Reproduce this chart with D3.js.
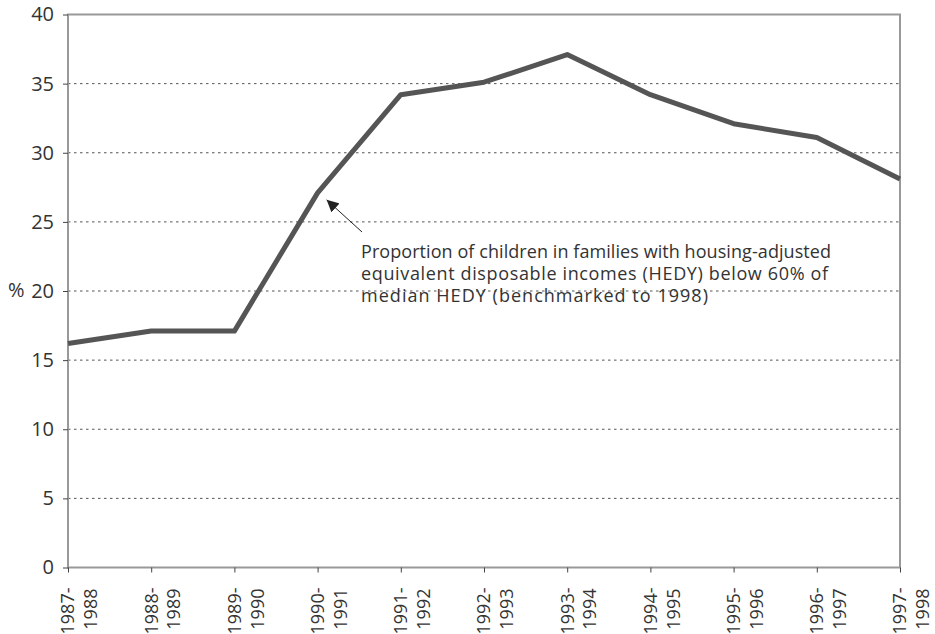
<!DOCTYPE html>
<html>
<head>
<meta charset="utf-8">
<script src="https://cdn.jsdelivr.net/npm/d3@7"></script>
<style>
  body { margin: 0; background: #fff; }
  text { font-family: "Open Sans", sans-serif; fill: #333; }
</style>
</head>
<body>
<div class="main"></div>
<script>
// data
let years = ["1987-1988", "1988-1989", "1989-1990", "1990-1991", "1991-1992",
             "1992-1993", "1993-1994", "1994-1995", "1995-1996", "1996-1997", "1997-1998"];
let share = [16.2, 17.1, 17.1, 27.1, 34.2, 35.1, 37.1, 34.2, 32.1, 31.1, 28.1];
let yTicks = [0, 5, 10, 15, 20, 25, 30, 35, 40];
let note = ["Proportion of children in families with housing-adjusted",
            "equivalent disposable incomes (HEDY) below 60% of",
            "median HEDY (benchmarked to 1998)"];

let width = 935, height = 634;
let margin = {top: 14.5, right: 35, bottom: 66.5, left: 68};

let svg = d3.select("div.main").append("svg")
  .attr("width", width)
  .attr("height", height);

let x = d3.scalePoint()
  .domain(years)
  .range([margin.left, width - margin.right]);

let y = d3.scaleLinear()
  .domain([0, 40])
  .range([height - margin.bottom, margin.top]);

// dotted gridlines
svg.append("g")
  .selectAll("line")
  .data(yTicks.filter(d => d > 0 && d < 40))
  .enter().append("line")
    .attr("x1", margin.left)
    .attr("x2", width - margin.right)
    .attr("y1", d => y(d))
    .attr("y2", d => y(d))
    .attr("stroke", "#555")
    .attr("stroke-width", 1)
    .attr("stroke-dasharray", "2.5,3.5");

// frame
svg.append("rect")
  .attr("x", margin.left)
  .attr("y", margin.top)
  .attr("width", width - margin.right - margin.left)
  .attr("height", height - margin.bottom - margin.top)
  .attr("fill", "none")
  .attr("stroke", "#999")
  .attr("stroke-width", 2);

// y axis
let yAxis = svg.append("g")
  .attr("transform", "translate(" + margin.left + ",0)")
  .call(d3.axisLeft(y).tickValues(yTicks).tickSize(5).tickPadding(9));
yAxis.select(".domain").remove();
yAxis.selectAll(".tick line").attr("stroke", "#444");
yAxis.selectAll(".tick text")
  .style("font-size", "20px")
  .style("font-family", "'Open Sans', sans-serif")
  .attr("fill", "#333");

svg.append("text")
  .attr("x", 8)
  .attr("y", y(20))
  .attr("dy", "0.32em")
  .style("font-size", "20px")
  .text("%");

// x axis
let xAxis = svg.append("g")
  .attr("transform", "translate(0," + (height - margin.bottom) + ")")
  .call(d3.axisBottom(x).tickSize(5).tickFormat(""));
xAxis.select(".domain").remove();
xAxis.selectAll(".tick line").attr("stroke", "#444");

let xl = svg.append("g")
  .selectAll("g")
  .data(years)
  .enter().append("g")
    .attr("transform", d => "translate(" + x(d) + "," + (height - margin.bottom + 20) + ") rotate(-90)");

xl.append("text")
  .attr("text-anchor", "end")
  .attr("dy", "0.35em")
  .style("font-size", "18px")
  .text(d => d.split("-")[0] + "-");
xl.append("text")
  .attr("text-anchor", "end")
  .attr("x", -1)
  .attr("y", 23)
  .attr("dy", "0.35em")
  .style("font-size", "18px")
  .text(d => d.split("-")[1]);

// the line
let line = d3.line()
  .x((d, i) => x(years[i]))
  .y(d => y(d));

svg.append("path")
  .datum(share)
  .attr("d", line)
  .attr("fill", "none")
  .attr("stroke", "#555")
  .attr("stroke-width", 5)
  .attr("stroke-linejoin", "round");

// annotation
svg.append("defs").append("marker")
  .attr("id", "arrow")
  .attr("viewBox", "0 0 10 10")
  .attr("refX", 10)
  .attr("refY", 5)
  .attr("markerWidth", 12)
  .attr("markerHeight", 12)
  .attr("markerUnits", "userSpaceOnUse")
  .attr("orient", "auto")
  .append("path")
    .attr("d", "M0,0 L10,5 L0,10 z")
    .attr("fill", "#222");

svg.append("line")
  .attr("x1", 362)
  .attr("y1", 232)
  .attr("x2", x(years[3]) + 9)
  .attr("y2", y(share[3]) + 7)
  .attr("stroke", "#222")
  .attr("stroke-width", 1)
  .attr("marker-end", "url(#arrow)");

// widths of the note lines as measured on the reference
let noteWidths = [470, 467, 347];
svg.append("g")
  .selectAll("text")
  .data(note)
  .enter().append("text")
    .attr("x", 361)
    .attr("y", (d, i) => 258 + i * 22)
    .attr("textLength", (d, i) => noteWidths[i])
    .attr("lengthAdjust", "spacing")
    .style("font-size", "18px")
    .text(d => d);
</script>
</body>
</html>
